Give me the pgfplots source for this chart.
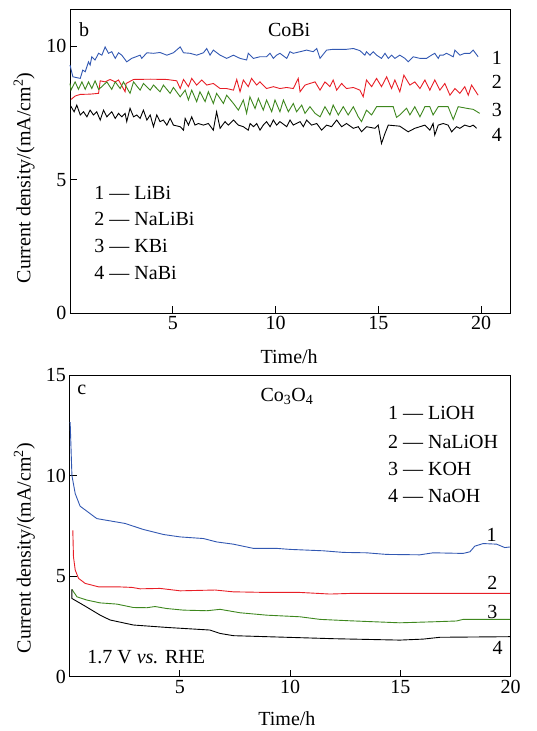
\documentclass[border=0pt]{standalone}
\usepackage{fontspec}
\setmainfont{Liberation Serif}
\usepackage{pgfplots}
\pgfplotsset{compat=1.18}
\definecolor{cblue}{RGB}{50,88,178}
\definecolor{cred}{RGB}{232,30,38}
\definecolor{cgreen}{RGB}{62,135,30}
\newcommand{\lbl}{\fontsize{20}{24}\selectfont}
\pgfplotsset{
  every axis/.append style={
    scale only axis,
    font=\lbl,
    tick label style={font=\lbl},
    /pgf/number format/assume math mode=true,
    axis line style={line width=0.9pt},
    tick align=inside,
    tick pos=left,
    major tick length=7pt,
    every tick/.style={line width=0.9pt, black},
    clip=false,
  }
}
\begin{document}
\begin{tikzpicture}
\path[use as bounding box] (0pt,0pt) rectangle (537pt,-731pt);
% ---------------- top panel ----------------
\begin{axis}[
  at={(70pt,-313pt)}, anchor=south west,
  width=440pt, height=304pt,
  xmin=0, xmax=21.4, ymin=0, ymax=11.39,
  xtick={5,10,15,20}, ytick={0,5,10},
]
\addplot[cblue, line width=0.9pt] coordinates {
(0,9.29)(0.14,8.85)(0.50,8.79)(0.62,9.10)(0.74,9.04)(0.90,9.41)(0.98,9.29)(1.06,9.60)(1.22,9.48)(1.39,9.73)(1.55,9.66)(1.71,9.97)(1.87,9.73)(2.03,9.79)(2.20,9.54)(2.36,9.75)(2.52,9.66)(2.76,9.41)(3.00,9.54)(3.41,9.66)(3.49,9.54)(3.74,9.75)(4.06,9.73)(4.38,9.76)(4.71,9.66)(5.03,9.75)(5.36,9.97)(5.52,9.75)(5.84,9.73)(6.16,9.66)(6.49,9.75)(6.65,9.91)(6.81,9.66)(6.97,9.85)(7.30,9.66)(7.62,9.54)(7.95,9.66)(8.27,9.54)(8.59,9.48)(8.67,9.73)(8.92,9.54)(9.24,9.60)(9.56,9.60)(9.73,9.73)(9.89,9.54)(10.05,9.66)(10.21,9.73)(10.54,9.54)(10.70,9.79)(10.86,9.73)(11.19,9.79)(11.51,9.85)(11.83,9.79)(12.00,9.91)(12.16,9.54)(12.48,9.85)(12.80,9.88)(13.45,9.88)(13.78,9.91)(14.10,9.83)(14.34,9.66)(14.42,9.79)(14.59,9.66)(14.75,9.79)(14.91,9.66)(15.15,9.54)(15.32,9.73)(15.48,9.54)(15.64,9.66)(15.80,9.54)(16.04,9.66)(16.29,9.54)(16.45,9.41)(16.69,9.60)(17.02,9.54)(17.34,9.54)(17.58,9.66)(17.74,9.73)(17.91,9.54)(17.99,9.66)(18.15,9.66)(18.31,9.73)(18.64,9.60)(18.72,9.85)(18.96,9.66)(19.20,9.73)(19.45,9.73)(19.61,9.85)(19.85,9.60)
};
\addplot[cred, line width=0.9pt] coordinates {
(0.05,8.00)(0.25,8.13)(0.50,8.19)(0.98,8.20)(1.39,8.23)(1.47,8.70)(1.71,8.66)(1.95,8.75)(2.20,8.66)(2.36,8.73)(2.68,8.29)(2.73,8.60)(3.09,8.75)(3.90,8.76)(4.71,8.75)(5.19,8.70)(5.36,8.41)(5.52,8.75)(5.76,8.48)(5.92,8.79)(6.16,8.54)(6.41,8.73)(6.65,8.54)(6.97,8.60)(7.30,8.41)(7.62,8.41)(7.95,8.35)(8.11,8.75)(8.27,8.29)(8.43,8.73)(8.67,8.48)(8.83,8.79)(9.08,8.54)(9.24,8.66)(9.56,8.41)(9.89,8.48)(10.21,8.41)(10.54,8.45)(10.86,8.41)(11.10,8.79)(11.19,8.29)(11.43,8.54)(11.67,8.60)(11.92,8.66)(12.16,8.35)(12.40,8.66)(12.64,8.48)(12.80,8.73)(12.97,8.35)(13.21,8.60)(13.45,8.41)(13.78,8.45)(14.10,8.35)(14.26,8.10)(14.42,8.73)(14.67,8.48)(14.91,8.79)(15.15,8.48)(15.40,8.85)(15.64,8.41)(15.80,8.73)(16.04,8.29)(16.24,8.91)(16.53,8.54)(16.77,8.66)(17.02,8.41)(17.26,8.73)(17.50,8.35)(17.74,8.73)(17.99,8.35)(18.23,8.60)(18.48,8.16)(18.72,8.41)(18.96,8.23)(19.20,8.48)(19.37,8.16)(19.53,8.54)(19.85,8.16)
};
\addplot[cgreen, line width=0.9pt] coordinates {
(0.00,8.60)(0.05,8.35)(0.25,8.66)(0.41,8.38)(0.58,8.66)(0.74,8.38)(0.90,8.66)(1.06,8.41)(1.22,8.70)(1.39,8.38)(1.55,8.48)(1.79,8.66)(2.03,8.38)(2.20,8.66)(2.44,8.41)(2.60,8.66)(2.92,8.23)(3.09,8.66)(3.41,8.35)(3.57,8.60)(3.90,8.35)(4.06,8.54)(4.38,8.29)(4.54,8.54)(4.87,8.23)(5.03,8.45)(5.36,8.10)(5.60,8.35)(5.76,7.98)(5.92,8.35)(6.16,7.92)(6.32,8.29)(6.57,7.92)(6.73,8.29)(6.97,7.85)(7.13,8.23)(7.46,7.85)(7.62,8.16)(7.95,7.85)(8.19,7.60)(8.43,7.98)(8.59,7.48)(8.75,8.10)(9.00,7.66)(9.16,8.04)(9.40,7.60)(9.56,7.98)(9.81,7.54)(9.97,7.98)(10.21,7.54)(10.38,7.98)(10.62,7.54)(10.86,7.85)(11.02,7.54)(11.27,7.79)(11.43,7.48)(11.67,7.73)(11.92,7.48)(12.16,7.35)(12.40,7.73)(12.64,7.42)(12.80,7.79)(13.05,7.42)(13.29,7.73)(13.53,7.42)(13.78,7.73)(14.02,7.35)(14.18,7.17)(14.42,7.60)(14.67,7.42)(14.91,7.73)(15.72,7.73)(15.88,7.33)(16.04,7.42)(16.37,7.67)(16.53,7.42)(16.77,7.73)(17.02,7.35)(17.26,7.73)(17.50,7.73)(17.66,7.42)(17.91,7.73)(18.39,7.73)(18.64,7.25)(18.88,7.73)(19.29,7.67)(19.61,7.63)(19.93,7.48)
};
\addplot[black, line width=0.9pt] coordinates {
(0.04,7.75)(0.20,7.54)(0.33,7.79)(0.50,7.42)(0.66,7.54)(0.82,7.35)(0.98,7.60)(1.14,7.42)(1.30,7.54)(1.47,7.23)(1.63,7.60)(1.79,7.35)(2.03,7.54)(2.20,7.29)(2.36,7.48)(2.52,7.35)(2.68,7.48)(2.76,7.17)(2.92,7.67)(3.09,7.35)(3.25,7.42)(3.41,7.29)(3.57,7.60)(3.74,7.23)(3.90,7.42)(4.06,6.98)(4.22,7.42)(4.38,7.17)(4.54,7.23)(4.71,7.04)(4.87,7.29)(5.03,7.04)(5.36,6.98)(5.52,6.85)(5.60,7.29)(5.76,7.04)(5.92,7.35)(6.08,7.04)(6.24,7.10)(6.49,7.04)(6.73,7.10)(6.97,6.85)(7.13,7.54)(7.30,6.92)(7.54,7.17)(7.70,7.04)(7.95,7.23)(8.19,7.04)(8.43,6.98)(8.67,6.85)(8.76,7.10)(8.92,6.98)(9.08,7.10)(9.24,6.85)(9.40,7.04)(9.56,7.17)(9.73,6.98)(9.89,7.23)(10.05,7.04)(10.21,7.17)(10.54,6.98)(10.70,7.23)(10.86,7.04)(11.19,7.17)(11.35,6.98)(11.51,7.23)(11.75,7.04)(12.00,7.10)(12.24,6.85)(12.48,7.04)(12.72,6.98)(12.97,7.23)(13.21,6.98)(13.45,7.10)(13.78,6.92)(14.02,6.98)(14.18,6.79)(14.42,6.98)(14.83,6.92)(14.99,7.04)(15.15,6.35)(15.32,6.73)(15.48,7.04)(16.04,7.00)(16.45,6.79)(16.77,6.92)(17.02,6.98)(17.26,7.04)(17.50,6.85)(17.66,7.10)(17.74,6.67)(17.91,7.04)(18.15,7.10)(18.39,7.04)(18.56,6.79)(18.80,6.98)(18.96,6.92)(19.20,7.04)(19.45,6.98)(19.61,7.04)(19.77,6.92)
};
\node at (axis cs:0.69,10.6) {b};
\node at (axis cs:10.66,10.6) {CoBi};
\node at (axis cs:20.76,9.55) {1};
\node at (axis cs:20.76,8.65) {2};
\node at (axis cs:20.76,7.6) {3};
\node at (axis cs:20.76,6.67) {4};
\node[anchor=west, inner sep=0pt] at (axis cs:1.18,4.51) {1 — LiBi};
\node[anchor=west, inner sep=0pt] at (axis cs:1.18,3.51) {2 — NaLiBi};
\node[anchor=west, inner sep=0pt] at (axis cs:1.18,2.51) {3 — KBi};
\node[anchor=west, inner sep=0pt] at (axis cs:1.18,1.51) {4 — NaBi};
\node[rotate=90] at (axis cs:-2.23,5.06) {Current density/(mA/cm\textsuperscript{2})};
\node at (axis cs:10.66,-1.62) {Time/h};
\end{axis}
% ---------------- bottom panel ----------------
\begin{axis}[
  at={(69.5pt,-676.7pt)}, anchor=south west,
  width=441pt, height=301.7pt,
  xmin=0, xmax=20, ymin=0, ymax=15,
  xtick={5,10,15,20}, ytick={0,5,10,15},
]
\addplot[cblue, line width=0.9pt] coordinates {
(0.03,12.66)(0.11,10.0)(0.26,9.1)(0.48,8.48)(1.24,7.86)(2.52,7.62)(3.35,7.32)(4.26,7.07)(5.02,6.95)(6.07,6.87)(6.68,6.70)(7.43,6.59)(8.34,6.38)(9.40,6.38)(10.0,6.33)(11.51,6.26)(12.42,6.18)(13.47,6.16)(14.38,6.08)(15.89,6.06)(16.49,6.16)(17.85,6.13)(18.16,6.21)(18.38,6.49)(18.76,6.62)(19.37,6.59)(19.74,6.42)(19.97,6.45)
};
\addplot[cred, line width=0.9pt] coordinates {
(0.15,7.28)(0.18,5.96)(0.26,5.30)(0.41,4.89)(0.71,4.64)(1.31,4.47)(2.15,4.47)(2.83,4.44)(3.20,4.37)(4.11,4.39)(5.02,4.27)(6.60,4.31)(7.43,4.22)(8.94,4.19)(10.45,4.19)(11.81,4.11)(12.72,4.14)(19.97,4.14)
};
\addplot[cgreen, line width=0.9pt] coordinates {
(0.11,4.34)(0.34,3.97)(0.79,3.81)(1.39,3.67)(2.15,3.61)(2.90,3.44)(3.51,3.43)(3.88,3.49)(4.41,3.39)(5.17,3.31)(6.23,3.28)(6.83,3.35)(7.73,3.18)(8.94,3.06)(10.45,2.98)(11.36,2.85)(12.72,2.78)(14.98,2.68)(16.49,2.73)(17.55,2.77)(17.85,2.85)(19.97,2.85)
};
\addplot[black, line width=0.9pt] coordinates {
(0.11,4.34)(0.11,3.89)(0.63,3.56)(1.39,3.06)(1.84,2.82)(2.90,2.57)(4.41,2.45)(5.92,2.35)(6.37,2.32)(6.83,2.15)(7.43,2.04)(8.94,1.99)(10.45,1.94)(11.96,1.89)(14.98,1.82)(16.04,1.87)(16.80,1.96)(19.97,1.99)
};
\node at (axis cs:0.56,14.24) {c};
\node at (axis cs:9.86,13.94) {Co\textsubscript{3}O\textsubscript{4}};
\node at (axis cs:19.14,7.04) {1};
\node at (axis cs:19.18,4.65) {2};
\node at (axis cs:19.18,3.23) {3};
\node at (axis cs:19.42,1.43) {4};
\node[anchor=west, inner sep=0pt] at (axis cs:14.44,13.09) {1 — LiOH};
\node[anchor=west, inner sep=0pt] at (axis cs:14.44,11.67) {2 — NaLiOH};
\node[anchor=west, inner sep=0pt] at (axis cs:14.44,10.35) {3 — KOH};
\node[anchor=west, inner sep=0pt] at (axis cs:14.44,8.97) {4 — NaOH};
\node[anchor=west, inner sep=0pt] at (axis cs:0.80,0.98) {1.7 V \textit{vs.} RHE};
\node[rotate=90] at (axis cs:-2.05,6.39) {Current density/(mA/cm\textsuperscript{2})};
\node at (axis cs:9.86,-2.10) {Time/h};
\end{axis}
\end{tikzpicture}
\end{document}
